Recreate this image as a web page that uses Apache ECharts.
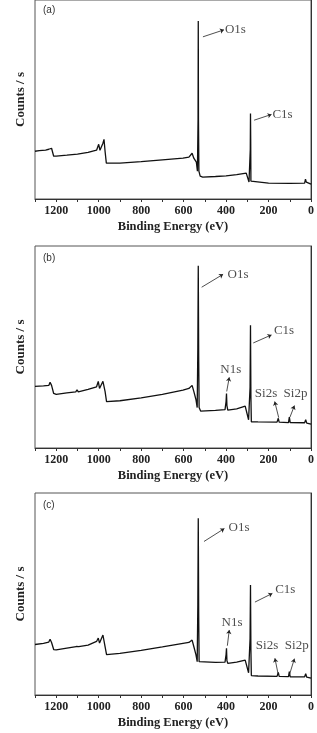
<!DOCTYPE html>
<html>
<head>
<meta charset="utf-8">
<script src="https://cdn.jsdelivr.net/npm/echarts@6/dist/echarts.min.js"></script>
<style>
  html, body { margin: 0; padding: 0; background: #fff; }
  #chart { width: 317px; height: 733px; }
</style>
</head>
<body>
<div id="chart"></div>
<script>
// binding energy ticks (eV)
const tickValues = [0, 200, 400, 600, 800, 1000, 1200]
const panelTags = ['(a)', '(b)', '(c)']

// spectra as [binding energy, relative counts]
const spectrumA = [
  [1300, 24], [1280, 24.3], [1250, 24.6], [1235, 25], [1228, 26], [1222, 25.5], [1212, 21.5], [1200, 21.5],
  [1150, 22], [1100, 22.6], [1050, 23.4], [1010, 24.5], [1000, 27.5], [994, 24.5], [988, 24], [980, 28],
  [975, 30], [970, 24], [964, 18], [955, 17.5], [900, 18], [800, 18.8], [700, 19.7], [603, 20.5],
  [575, 21], [560, 23], [552, 20.5], [540, 18.5], [535, 14], [532, 40], [531, 89.5], [530, 40],
  [528, 14], [522, 11.5], [510, 11], [450, 11.3], [400, 11.6], [350, 12.2], [305, 13], [298, 12],
  [292, 8.5], [288, 9], [286, 25], [285, 43], [284, 30], [283, 9], [280, 8], [200, 8], [100, 7.9],
  [30, 8], [26, 10], [22, 8.5], [0, 7.5]
]
const spectrumB = [
  [1300, 30.5], [1260, 30.8], [1235, 31], [1229, 32.5], [1222, 31], [1212, 27], [1200, 26.5], [1150, 27.3],
  [1108, 27.8], [1102, 28.8], [1096, 27.8], [1050, 29], [1010, 30.3], [1002, 33], [996, 29.5], [988, 29.5],
  [980, 33], [976, 33.5], [970, 28], [963, 23], [955, 22.7], [900, 23.4], [800, 24.8], [700, 26.5],
  [603, 28.6], [575, 29.5], [560, 31], [552, 28], [542, 24], [536, 20], [533, 50], [531, 90.2], [529, 45],
  [527, 20], [520, 18.3], [450, 18.6], [405, 19], [400, 23], [398, 27], [396, 21], [392, 18.8], [350, 19.4],
  [310, 20.7], [302, 20.2], [294, 14], [290, 13.4], [287, 30], [285, 60.8], [283, 25], [281, 13],
  [250, 12.9], [160, 12.8], [154, 14.7], [150, 12.8], [106, 12.6], [102, 15.3], [98, 12.6], [30, 12.5],
  [25, 14], [20, 12.3], [0, 11.8]
]
const spectrumC = [
  [1300, 25], [1260, 25.6], [1235, 26.2], [1229, 27.6], [1222, 26], [1212, 22.5], [1200, 22.3], [1150, 23.2],
  [1106, 24], [1100, 24.8], [1094, 23.9], [1050, 24.7], [1010, 26.5], [1002, 28.2], [996, 25.7], [988, 26],
  [980, 29.7], [976, 29], [970, 24], [963, 20], [955, 19.8], [900, 20.6], [800, 22.1], [700, 23.8],
  [603, 25.6], [575, 26], [560, 27.2], [552, 24], [542, 20], [536, 16.5], [533, 45], [531, 87.5], [529, 40],
  [527, 16.5], [520, 16], [450, 16.2], [405, 16.3], [400, 20], [398, 23.1], [396, 17], [392, 15.7], [350, 16.3],
  [310, 17.3], [302, 16.8], [294, 11], [290, 10.7], [287, 28], [285, 54.5], [283, 22], [281, 9.6],
  [250, 9.4], [160, 9.2], [154, 11.2], [150, 9.2], [106, 9.1], [102, 11.6], [98, 9], [30, 9],
  [25, 10.5], [20, 8.8], [0, 8.3]
]

// peak labels: name, text centre, arrow tail, arrow head (data coords)
const peaksA = [
  ['O1s', [356, 85], [509, 81.5], [410, 85]],
  ['C1s', [134, 42.5], [268, 39.6], [186, 42.5]]
]
const peaksB = [
  ['O1s', [344, 86], [515, 79.6], [414, 86]],
  ['C1s', [127, 58], [272, 52], [186, 56]],
  ['N1s', [378, 39], [397, 28], [385, 35]],
  ['Si2s', [212, 27], [152, 15], [171, 23]],
  ['Si2p', [73, 27], [99, 15.3], [78, 21]]
]
const peaksC = [
  ['O1s', [339, 83], [504, 76], [408, 82.4]],
  ['C1s', [121, 52], [264, 46], [182, 50.3]],
  ['N1s', [372, 36], [394, 24.4], [385, 32.2]],
  ['Si2s', [207, 24.4], [154, 9.9], [170, 18.2]],
  ['Si2p', [67, 24.4], [102, 9.9], [78, 18]]
]

const spectra = [spectrumA, spectrumB, spectrumC]
const peaks = [peaksA, peaksB, peaksC]
const gridTops = [-3, 246, 493]
const gridHeight = 202

const serif = 'Liberation Serif'
const chart = echarts.init(document.getElementById('chart'))

const grids = [], xAxes = [], yAxes = [], series = [], titles = []

spectra.forEach((spec, i) => {
  grids.push({
    left: 35, width: 276, top: gridTops[i], height: gridHeight,
    show: true, borderColor: '#555', borderWidth: 1, backgroundColor: 'transparent'
  })
  xAxes.push({
    gridIndex: i, type: 'value', inverse: true, min: 0, max: 1300, interval: 200,
    name: 'Binding Energy (eV)', nameLocation: 'middle', nameGap: 21,
    nameTextStyle: { fontFamily: serif, fontWeight: 'bold', fontSize: 12.5, color: '#222' },
    axisLine: { lineStyle: { color: '#333', width: 1 } },
    axisTick: { show: true, length: 3, lineStyle: { color: '#333' } },
    minorTick: { show: true, splitNumber: 2, length: 3, lineStyle: { color: '#333' } },
    axisLabel: {
      margin: 6, fontFamily: serif, fontWeight: 'bold', fontSize: 12, color: '#222',
      customValues: tickValues,
      formatter: v => String(v)
    },
    splitLine: { show: false }
  })
  yAxes.push({
    gridIndex: i, type: 'value', min: 0, max: 100,
    name: 'Counts / s', nameLocation: 'middle', nameGap: 8,
    nameTextStyle: { fontFamily: serif, fontWeight: 'bold', fontSize: 13, color: '#222' },
    axisLine: { show: true, lineStyle: { color: '#333', width: 1 } },
    axisTick: { show: false }, axisLabel: { show: false }, splitLine: { show: false }
  })
  series.push({
    type: 'line', xAxisIndex: i, yAxisIndex: i, data: spec,
    showSymbol: false, symbol: 'none',
    lineStyle: { color: '#111', width: 1.3 },
    markLine: {
      silent: true, symbol: ['none', 'arrow'], symbolSize: 4,
      label: { show: false },
      lineStyle: { color: '#222', width: 0.8, type: 'solid' },
      data: peaks[i].map(p => [{ coord: p[2] }, { coord: p[3] }])
    }
  })
  series.push({
    type: 'scatter', xAxisIndex: i, yAxisIndex: i, symbolSize: 0, silent: true,
    data: peaks[i].map(p => ({ value: p[1], name: p[0] })),
    label: {
      show: true, position: 'inside', formatter: '{b}',
      fontFamily: serif, fontSize: 13, color: '#222'
    }
  })
  titles.push({
    text: panelTags[i], left: 38, top: gridTops[i] + (i === 0 ? 3 : 2),
    textStyle: { fontFamily: 'Liberation Sans', fontWeight: 'normal', fontSize: 10, color: '#333' }
  })
})

chart.setOption({
  animation: false,
  backgroundColor: '#fff',
  title: titles,
  grid: grids,
  xAxis: xAxes,
  yAxis: yAxes,
  series: series
})
</script>
</body>
</html>
